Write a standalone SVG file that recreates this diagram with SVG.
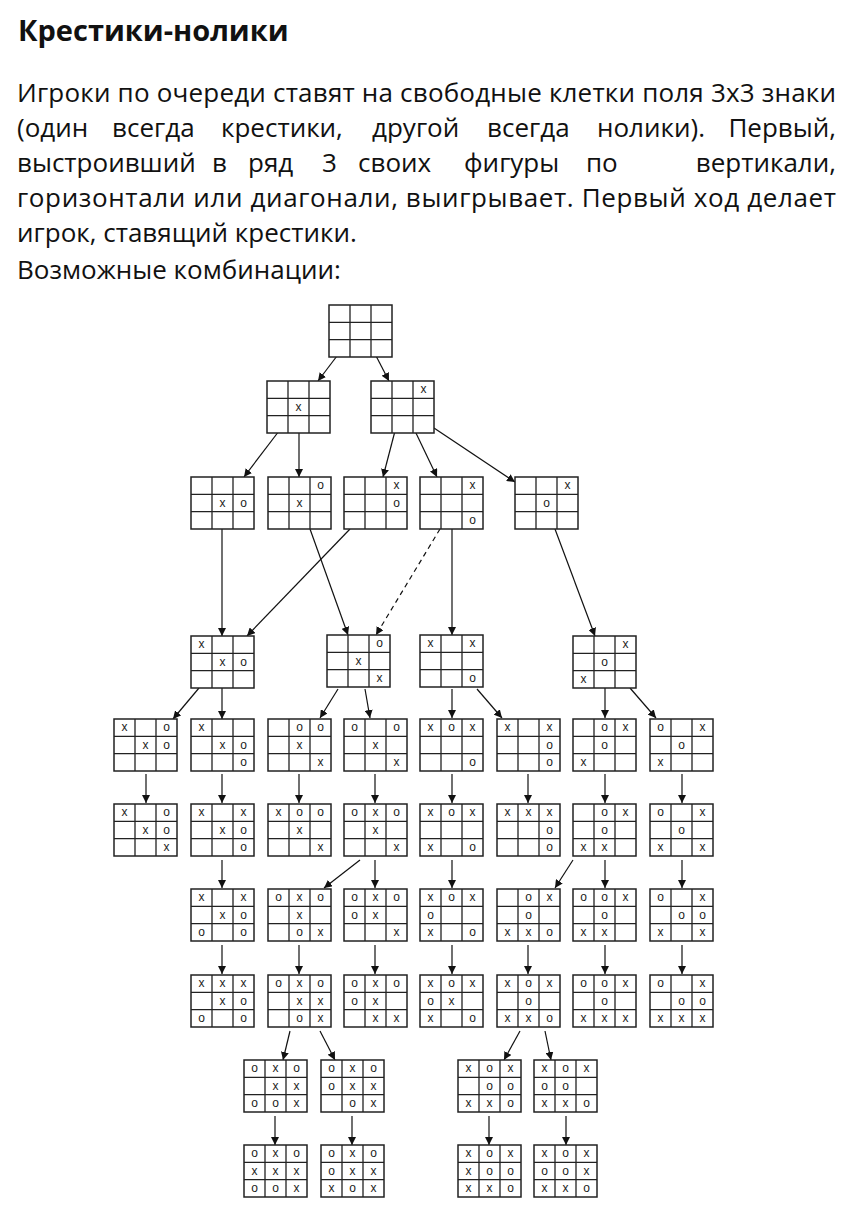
<svg xmlns="http://www.w3.org/2000/svg" xmlns:xlink="http://www.w3.org/1999/xlink" width="852" height="1220" viewBox="0 0 852 1220">
<style>
.t{font-family:"Open Sans","Liberation Sans",sans-serif;fill:#111}
.h{font-size:29px;font-weight:bold}
.p{font-size:26px}
.e{text-anchor:end}
.m{font-family:"Liberation Sans",sans-serif;font-size:12px;text-anchor:middle;fill:#222}
.c line{stroke:#111;stroke-width:1.2}
.d{stroke-dasharray:5,4}
</style>
<defs>
<marker id="a" viewBox="0 0 10 10" refX="10" refY="5" markerWidth="8" markerHeight="8" orient="auto" markerUnits="userSpaceOnUse"><path d="M0,0L10,5L0,10z" fill="#111"/></marker>
<symbol id="g" overflow="visible"><rect x="0" y="0" width="63" height="52" fill="#fff" stroke="#222" stroke-width="1.5"/><path d="M21,0V52M42,0V52M0,17.3H63M0,34.7H63" stroke="#222" stroke-width="1.3" fill="none"/></symbol>
</defs>
<rect width="852" height="1220" fill="#fff"/>
<text class="t h" x="18" y="41">Крестики-нолики</text>
<text class="t p" x="17" y="102" textLength="819" lengthAdjust="spacing">Игроки по очереди ставят на свободные клетки поля 3х3 знаки</text>
<text class="t p" y="137"><tspan x="17">(один</tspan><tspan x="112">всегда</tspan><tspan x="221">крестики,</tspan><tspan x="372">другой</tspan><tspan x="487">всегда</tspan><tspan x="597">нолики).</tspan><tspan x="836" class="e">Первый,</tspan></text>
<text class="t p" y="172"><tspan x="17">выстроивший</tspan><tspan x="212">в</tspan><tspan x="248">ряд</tspan><tspan x="322">3</tspan><tspan x="358">своих</tspan><tspan x="464">фигуры</tspan><tspan x="586">по</tspan><tspan x="836" class="e">вертикали,</tspan></text>
<text class="t p" x="17" y="207" textLength="819" lengthAdjust="spacing">горизонтали или диагонали, выигрывает. Первый ход делает</text>
<text class="t p" x="17" y="242">игрок, ставящий крестики.</text>
<text class="t p" x="17" y="279">Возможные комбинации:</text>
<g class="c" marker-end="url(#a)">
<line x1="340" y1="352" x2="318" y2="381"/><line x1="374" y1="352" x2="389" y2="381"/>
<line x1="279" y1="431" x2="244" y2="477"/><line x1="299" y1="431" x2="299" y2="477"/>
<line x1="395" y1="431" x2="383" y2="477"/><line x1="415" y1="431" x2="437" y2="477"/><line x1="434" y1="428" x2="515" y2="482"/>
<line x1="222" y1="529" x2="222" y2="636"/><line x1="350" y1="529" x2="247" y2="636"/><line x1="310" y1="529" x2="348" y2="635"/>
<line class="d" x1="440" y1="529" x2="376" y2="635"/><line x1="452" y1="529" x2="452" y2="635"/><line x1="555" y1="529" x2="595" y2="636"/>
<line x1="199" y1="688" x2="173" y2="719"/><line x1="222" y1="688" x2="222" y2="719"/><line x1="338" y1="689" x2="320" y2="718"/><line x1="365" y1="689" x2="370" y2="718"/>
<line x1="452" y1="689" x2="452" y2="718"/><line x1="477" y1="689" x2="502" y2="718"/><line x1="605" y1="687" x2="605" y2="718"/><line x1="630" y1="688" x2="656" y2="718"/>
<line x1="146" y1="774" x2="146" y2="803"/><line x1="222" y1="774" x2="222" y2="803"/><line x1="299" y1="774" x2="299" y2="803"/><line x1="375" y1="774" x2="375" y2="803"/>
<line x1="452" y1="774" x2="452" y2="803"/><line x1="528" y1="774" x2="528" y2="803"/><line x1="605" y1="774" x2="605" y2="803"/><line x1="682" y1="774" x2="682" y2="803"/>
<line x1="222" y1="860" x2="222" y2="888"/><line x1="360" y1="860" x2="324" y2="888"/><line x1="375" y1="860" x2="375" y2="888"/><line x1="452" y1="860" x2="452" y2="888"/>
<line x1="573" y1="860" x2="555" y2="888"/><line x1="605" y1="860" x2="605" y2="888"/><line x1="682" y1="860" x2="682" y2="888"/>
<line x1="222" y1="945" x2="222" y2="974"/><line x1="299" y1="945" x2="299" y2="974"/><line x1="375" y1="945" x2="375" y2="974"/><line x1="452" y1="945" x2="452" y2="974"/>
<line x1="528" y1="945" x2="528" y2="974"/><line x1="605" y1="945" x2="605" y2="974"/><line x1="682" y1="945" x2="682" y2="974"/>
<line x1="290" y1="1031" x2="283" y2="1060"/><line x1="320" y1="1031" x2="335" y2="1060"/><line x1="520" y1="1031" x2="504" y2="1060"/><line x1="545" y1="1031" x2="551" y2="1060"/>
<line x1="275" y1="1116" x2="275" y2="1145"/><line x1="352" y1="1116" x2="352" y2="1145"/><line x1="489" y1="1116" x2="489" y2="1145"/><line x1="566" y1="1116" x2="566" y2="1145"/>
</g>
<g id="root" transform="translate(329,305)"><use xlink:href="#g"/></g>
<g id="n1a" transform="translate(267,381)"><use xlink:href="#g"/><text class="m" x="31.5" y="30">x</text></g>
<g id="n1b" transform="translate(371,381)"><use xlink:href="#g"/><text class="m" x="52.5" y="12">x</text></g>
<g id="nA" transform="translate(191,477)"><use xlink:href="#g"/><text class="m" x="31.5" y="30">x</text><text class="m" x="52.5" y="30">o</text></g>
<g id="nB" transform="translate(268,477)"><use xlink:href="#g"/><text class="m" x="52.5" y="12">o</text><text class="m" x="31.5" y="30">x</text></g>
<g id="nC" transform="translate(344,477)"><use xlink:href="#g"/><text class="m" x="52.5" y="12">x</text><text class="m" x="52.5" y="30">o</text></g>
<g id="nD" transform="translate(420,477)"><use xlink:href="#g"/><text class="m" x="52.5" y="12">x</text><text class="m" x="52.5" y="47">o</text></g>
<g id="nE" transform="translate(515,477)"><use xlink:href="#g"/><text class="m" x="52.5" y="12">x</text><text class="m" x="31.5" y="30">o</text></g>
<g id="nF" transform="translate(191,636)"><use xlink:href="#g"/><text class="m" x="10.5" y="12">x</text><text class="m" x="31.5" y="30">x</text><text class="m" x="52.5" y="30">o</text></g>
<g id="nG" transform="translate(327,635)"><use xlink:href="#g"/><text class="m" x="52.5" y="12">o</text><text class="m" x="31.5" y="30">x</text><text class="m" x="52.5" y="47">x</text></g>
<g id="nH" transform="translate(420,635)"><use xlink:href="#g"/><text class="m" x="10.5" y="12">x</text><text class="m" x="52.5" y="12">x</text><text class="m" x="52.5" y="47">o</text></g>
<g id="nI" transform="translate(573,636)"><use xlink:href="#g"/><text class="m" x="52.5" y="12">x</text><text class="m" x="31.5" y="30">o</text><text class="m" x="10.5" y="47">x</text></g>
<g id="nJ" transform="translate(114,719)"><use xlink:href="#g"/><text class="m" x="10.5" y="12">x</text><text class="m" x="52.5" y="12">o</text><text class="m" x="31.5" y="30">x</text><text class="m" x="52.5" y="30">o</text></g>
<g id="nK" transform="translate(191,719)"><use xlink:href="#g"/><text class="m" x="10.5" y="12">x</text><text class="m" x="31.5" y="30">x</text><text class="m" x="52.5" y="30">o</text><text class="m" x="52.5" y="47">o</text></g>
<g id="nL" transform="translate(268,719)"><use xlink:href="#g"/><text class="m" x="31.5" y="12">o</text><text class="m" x="52.5" y="12">o</text><text class="m" x="31.5" y="30">x</text><text class="m" x="52.5" y="47">x</text></g>
<g id="nM" transform="translate(344,719)"><use xlink:href="#g"/><text class="m" x="10.5" y="12">o</text><text class="m" x="52.5" y="12">o</text><text class="m" x="31.5" y="30">x</text><text class="m" x="52.5" y="47">x</text></g>
<g id="nN" transform="translate(420,719)"><use xlink:href="#g"/><text class="m" x="10.5" y="12">x</text><text class="m" x="31.5" y="12">o</text><text class="m" x="52.5" y="12">x</text><text class="m" x="52.5" y="47">o</text></g>
<g id="nO" transform="translate(497,719)"><use xlink:href="#g"/><text class="m" x="10.5" y="12">x</text><text class="m" x="52.5" y="12">x</text><text class="m" x="52.5" y="30">o</text><text class="m" x="52.5" y="47">o</text></g>
<g id="nP" transform="translate(573,719)"><use xlink:href="#g"/><text class="m" x="31.5" y="12">o</text><text class="m" x="52.5" y="12">x</text><text class="m" x="31.5" y="30">o</text><text class="m" x="10.5" y="47">x</text></g>
<g id="nQ" transform="translate(650,719)"><use xlink:href="#g"/><text class="m" x="10.5" y="12">o</text><text class="m" x="52.5" y="12">x</text><text class="m" x="31.5" y="30">o</text><text class="m" x="10.5" y="47">x</text></g>
<g id="nJ2" transform="translate(114,804)"><use xlink:href="#g"/><text class="m" x="10.5" y="12">x</text><text class="m" x="52.5" y="12">o</text><text class="m" x="31.5" y="30">x</text><text class="m" x="52.5" y="30">o</text><text class="m" x="52.5" y="47">x</text></g>
<g id="nK2" transform="translate(191,804)"><use xlink:href="#g"/><text class="m" x="10.5" y="12">x</text><text class="m" x="52.5" y="12">x</text><text class="m" x="31.5" y="30">x</text><text class="m" x="52.5" y="30">o</text><text class="m" x="52.5" y="47">o</text></g>
<g id="nL2" transform="translate(268,804)"><use xlink:href="#g"/><text class="m" x="10.5" y="12">x</text><text class="m" x="31.5" y="12">o</text><text class="m" x="52.5" y="12">o</text><text class="m" x="31.5" y="30">x</text><text class="m" x="52.5" y="47">x</text></g>
<g id="nM2" transform="translate(344,804)"><use xlink:href="#g"/><text class="m" x="10.5" y="12">o</text><text class="m" x="31.5" y="12">x</text><text class="m" x="52.5" y="12">o</text><text class="m" x="31.5" y="30">x</text><text class="m" x="52.5" y="47">x</text></g>
<g id="nN2" transform="translate(420,804)"><use xlink:href="#g"/><text class="m" x="10.5" y="12">x</text><text class="m" x="31.5" y="12">o</text><text class="m" x="52.5" y="12">x</text><text class="m" x="10.5" y="47">x</text><text class="m" x="52.5" y="47">o</text></g>
<g id="nO2" transform="translate(497,804)"><use xlink:href="#g"/><text class="m" x="10.5" y="12">x</text><text class="m" x="31.5" y="12">x</text><text class="m" x="52.5" y="12">x</text><text class="m" x="52.5" y="30">o</text><text class="m" x="52.5" y="47">o</text></g>
<g id="nP2" transform="translate(573,804)"><use xlink:href="#g"/><text class="m" x="31.5" y="12">o</text><text class="m" x="52.5" y="12">x</text><text class="m" x="31.5" y="30">o</text><text class="m" x="10.5" y="47">x</text><text class="m" x="31.5" y="47">x</text></g>
<g id="nQ2" transform="translate(650,804)"><use xlink:href="#g"/><text class="m" x="10.5" y="12">o</text><text class="m" x="52.5" y="12">x</text><text class="m" x="31.5" y="30">o</text><text class="m" x="10.5" y="47">x</text><text class="m" x="52.5" y="47">x</text></g>
<g id="nR" transform="translate(191,889)"><use xlink:href="#g"/><text class="m" x="10.5" y="12">x</text><text class="m" x="52.5" y="12">x</text><text class="m" x="31.5" y="30">x</text><text class="m" x="52.5" y="30">o</text><text class="m" x="10.5" y="47">o</text><text class="m" x="52.5" y="47">o</text></g>
<g id="nS" transform="translate(268,889)"><use xlink:href="#g"/><text class="m" x="10.5" y="12">o</text><text class="m" x="31.5" y="12">x</text><text class="m" x="52.5" y="12">o</text><text class="m" x="31.5" y="30">x</text><text class="m" x="31.5" y="47">o</text><text class="m" x="52.5" y="47">x</text></g>
<g id="nT" transform="translate(344,889)"><use xlink:href="#g"/><text class="m" x="10.5" y="12">o</text><text class="m" x="31.5" y="12">x</text><text class="m" x="52.5" y="12">o</text><text class="m" x="10.5" y="30">o</text><text class="m" x="31.5" y="30">x</text><text class="m" x="52.5" y="47">x</text></g>
<g id="nU" transform="translate(420,889)"><use xlink:href="#g"/><text class="m" x="10.5" y="12">x</text><text class="m" x="31.5" y="12">o</text><text class="m" x="52.5" y="12">x</text><text class="m" x="10.5" y="30">o</text><text class="m" x="10.5" y="47">x</text><text class="m" x="52.5" y="47">o</text></g>
<g id="nV" transform="translate(497,889)"><use xlink:href="#g"/><text class="m" x="31.5" y="12">o</text><text class="m" x="52.5" y="12">x</text><text class="m" x="31.5" y="30">o</text><text class="m" x="10.5" y="47">x</text><text class="m" x="31.5" y="47">x</text><text class="m" x="52.5" y="47">o</text></g>
<g id="nW" transform="translate(573,889)"><use xlink:href="#g"/><text class="m" x="10.5" y="12">o</text><text class="m" x="31.5" y="12">o</text><text class="m" x="52.5" y="12">x</text><text class="m" x="31.5" y="30">o</text><text class="m" x="10.5" y="47">x</text><text class="m" x="31.5" y="47">x</text></g>
<g id="nX" transform="translate(650,889)"><use xlink:href="#g"/><text class="m" x="10.5" y="12">o</text><text class="m" x="52.5" y="12">x</text><text class="m" x="31.5" y="30">o</text><text class="m" x="52.5" y="30">o</text><text class="m" x="10.5" y="47">x</text><text class="m" x="52.5" y="47">x</text></g>
<g id="nR2" transform="translate(191,975)"><use xlink:href="#g"/><text class="m" x="10.5" y="12">x</text><text class="m" x="31.5" y="12">x</text><text class="m" x="52.5" y="12">x</text><text class="m" x="31.5" y="30">x</text><text class="m" x="52.5" y="30">o</text><text class="m" x="10.5" y="47">o</text><text class="m" x="52.5" y="47">o</text></g>
<g id="nS2" transform="translate(268,975)"><use xlink:href="#g"/><text class="m" x="10.5" y="12">o</text><text class="m" x="31.5" y="12">x</text><text class="m" x="52.5" y="12">o</text><text class="m" x="31.5" y="30">x</text><text class="m" x="52.5" y="30">x</text><text class="m" x="31.5" y="47">o</text><text class="m" x="52.5" y="47">x</text></g>
<g id="nT2" transform="translate(344,975)"><use xlink:href="#g"/><text class="m" x="10.5" y="12">o</text><text class="m" x="31.5" y="12">x</text><text class="m" x="52.5" y="12">o</text><text class="m" x="10.5" y="30">o</text><text class="m" x="31.5" y="30">x</text><text class="m" x="31.5" y="47">x</text><text class="m" x="52.5" y="47">x</text></g>
<g id="nU2" transform="translate(420,975)"><use xlink:href="#g"/><text class="m" x="10.5" y="12">x</text><text class="m" x="31.5" y="12">o</text><text class="m" x="52.5" y="12">x</text><text class="m" x="10.5" y="30">o</text><text class="m" x="31.5" y="30">x</text><text class="m" x="10.5" y="47">x</text><text class="m" x="52.5" y="47">o</text></g>
<g id="nV2" transform="translate(497,975)"><use xlink:href="#g"/><text class="m" x="10.5" y="12">x</text><text class="m" x="31.5" y="12">o</text><text class="m" x="52.5" y="12">x</text><text class="m" x="31.5" y="30">o</text><text class="m" x="10.5" y="47">x</text><text class="m" x="31.5" y="47">x</text><text class="m" x="52.5" y="47">o</text></g>
<g id="nW2" transform="translate(573,975)"><use xlink:href="#g"/><text class="m" x="10.5" y="12">o</text><text class="m" x="31.5" y="12">o</text><text class="m" x="52.5" y="12">x</text><text class="m" x="31.5" y="30">o</text><text class="m" x="10.5" y="47">x</text><text class="m" x="31.5" y="47">x</text><text class="m" x="52.5" y="47">x</text></g>
<g id="nX2" transform="translate(650,975)"><use xlink:href="#g"/><text class="m" x="10.5" y="12">o</text><text class="m" x="52.5" y="12">x</text><text class="m" x="31.5" y="30">o</text><text class="m" x="52.5" y="30">o</text><text class="m" x="10.5" y="47">x</text><text class="m" x="31.5" y="47">x</text><text class="m" x="52.5" y="47">x</text></g>
<g id="nY" transform="translate(244,1060)"><use xlink:href="#g"/><text class="m" x="10.5" y="12">o</text><text class="m" x="31.5" y="12">x</text><text class="m" x="52.5" y="12">o</text><text class="m" x="31.5" y="30">x</text><text class="m" x="52.5" y="30">x</text><text class="m" x="10.5" y="47">o</text><text class="m" x="31.5" y="47">o</text><text class="m" x="52.5" y="47">x</text></g>
<g id="nZ" transform="translate(321,1060)"><use xlink:href="#g"/><text class="m" x="10.5" y="12">o</text><text class="m" x="31.5" y="12">x</text><text class="m" x="52.5" y="12">o</text><text class="m" x="10.5" y="30">o</text><text class="m" x="31.5" y="30">x</text><text class="m" x="52.5" y="30">x</text><text class="m" x="31.5" y="47">o</text><text class="m" x="52.5" y="47">x</text></g>
<g id="nAA" transform="translate(458,1060)"><use xlink:href="#g"/><text class="m" x="10.5" y="12">x</text><text class="m" x="31.5" y="12">o</text><text class="m" x="52.5" y="12">x</text><text class="m" x="31.5" y="30">o</text><text class="m" x="52.5" y="30">o</text><text class="m" x="10.5" y="47">x</text><text class="m" x="31.5" y="47">x</text><text class="m" x="52.5" y="47">o</text></g>
<g id="nAB" transform="translate(534,1060)"><use xlink:href="#g"/><text class="m" x="10.5" y="12">x</text><text class="m" x="31.5" y="12">o</text><text class="m" x="52.5" y="12">x</text><text class="m" x="10.5" y="30">o</text><text class="m" x="31.5" y="30">o</text><text class="m" x="10.5" y="47">x</text><text class="m" x="31.5" y="47">x</text><text class="m" x="52.5" y="47">o</text></g>
<g id="nY2" transform="translate(244,1145)"><use xlink:href="#g"/><text class="m" x="10.5" y="12">o</text><text class="m" x="31.5" y="12">x</text><text class="m" x="52.5" y="12">o</text><text class="m" x="10.5" y="30">x</text><text class="m" x="31.5" y="30">x</text><text class="m" x="52.5" y="30">x</text><text class="m" x="10.5" y="47">o</text><text class="m" x="31.5" y="47">o</text><text class="m" x="52.5" y="47">x</text></g>
<g id="nZ2" transform="translate(321,1145)"><use xlink:href="#g"/><text class="m" x="10.5" y="12">o</text><text class="m" x="31.5" y="12">x</text><text class="m" x="52.5" y="12">o</text><text class="m" x="10.5" y="30">o</text><text class="m" x="31.5" y="30">x</text><text class="m" x="52.5" y="30">x</text><text class="m" x="10.5" y="47">x</text><text class="m" x="31.5" y="47">o</text><text class="m" x="52.5" y="47">x</text></g>
<g id="nAA2" transform="translate(458,1145)"><use xlink:href="#g"/><text class="m" x="10.5" y="12">x</text><text class="m" x="31.5" y="12">o</text><text class="m" x="52.5" y="12">x</text><text class="m" x="10.5" y="30">x</text><text class="m" x="31.5" y="30">o</text><text class="m" x="52.5" y="30">o</text><text class="m" x="10.5" y="47">x</text><text class="m" x="31.5" y="47">x</text><text class="m" x="52.5" y="47">o</text></g>
<g id="nAB2" transform="translate(534,1145)"><use xlink:href="#g"/><text class="m" x="10.5" y="12">x</text><text class="m" x="31.5" y="12">o</text><text class="m" x="52.5" y="12">x</text><text class="m" x="10.5" y="30">o</text><text class="m" x="31.5" y="30">o</text><text class="m" x="52.5" y="30">x</text><text class="m" x="10.5" y="47">x</text><text class="m" x="31.5" y="47">x</text><text class="m" x="52.5" y="47">o</text></g>
</svg>
